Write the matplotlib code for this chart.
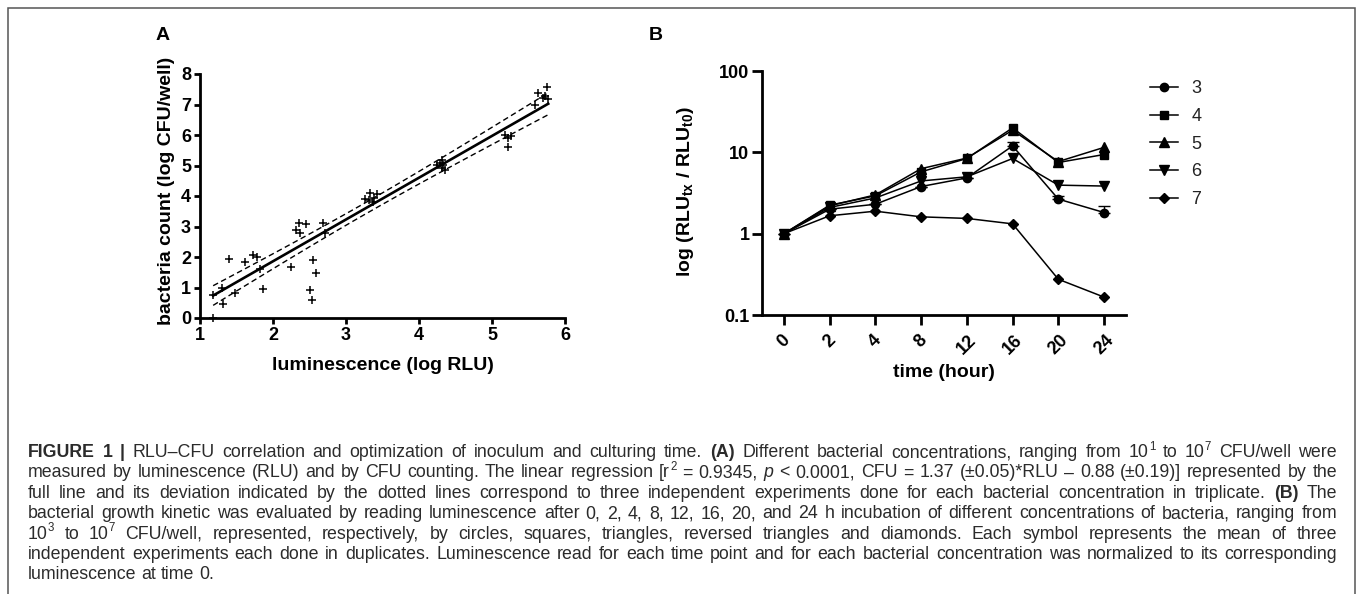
import numpy as np
import matplotlib.pyplot as plt
from matplotlib.patches import Rectangle
from matplotlib.ticker import NullLocator

W, H = 1358, 594

# Panel A: luminescence (log RLU) vs bacteria count (log CFU/well)
lum_log = [1.18, 1.18, 1.30, 1.31, 1.48, 1.40, 1.62, 1.73, 1.78, 1.82, 1.86,
           2.25, 2.50, 2.54, 2.55, 2.59, 2.32, 2.35, 2.37, 2.45, 2.68, 2.71,
           3.26, 3.31, 3.33, 3.38, 3.42, 3.37, 4.24, 4.29, 4.32, 4.36, 4.31,
           4.33, 5.18, 5.22, 5.22, 5.26, 5.59, 5.63, 5.73, 5.75, 5.77, 5.70]
cfu_log = [0.00, 0.75, 0.97, 0.45, 0.82, 1.95, 1.84, 2.08, 2.00, 1.60, 0.94,
           1.68, 0.91, 0.58, 1.90, 1.48, 2.88, 3.10, 2.80, 3.08, 3.10, 2.80,
           3.89, 3.87, 4.11, 3.92, 4.07, 3.81, 5.02, 5.07, 4.91, 4.85, 5.18,
           5.02, 6.00, 5.90, 5.60, 5.97, 6.99, 7.38, 7.27, 7.57, 7.18, 7.20]
fit_slope = 1.37
fit_icpt = -0.88

# Panel B: RLU(tx)/RLU(t0) per inoculum (log CFU/well)
times = ['0', '2', '4', '8', '12', '16', '20', '24']
inoculum = ['3', '4', '5', '6', '7']
ratio_3 = [1.0, 2.00, 2.30, 3.80, 4.85, 12.0, 2.66, 1.82]
ratio_3_sd = [0, 0, 0, 0, 0, 1.4, 0.25, 0.38]
ratio_4 = [1.0, 2.24, 2.92, 5.76, 8.40, 20.0, 7.50, 9.40]
ratio_5 = [1.0, 2.20, 3.00, 6.30, 8.50, 18.7, 7.70, 11.5]
ratio_6 = [1.0, 2.10, 2.75, 4.45, 5.00, 8.40, 3.95, 3.85]
ratio_7 = [1.0, 1.66, 1.89, 1.61, 1.54, 1.32, 0.275, 0.166]

plt.rcParams['font.family'] = ['Liberation Sans', 'DejaVu Sans']
plt.rcParams['mathtext.fontset'] = 'custom'
plt.rcParams['mathtext.rm'] = 'Liberation Sans'
plt.rcParams['mathtext.bf'] = 'Liberation Sans:bold'
plt.rcParams['mathtext.it'] = 'Liberation Sans:italic'

fig = plt.figure(figsize=(W / 100, H / 100), dpi=100)


def fx(px):
    return px / W


def fy(py):
    return 1 - py / H


def gp_axes(ax, tick_len):
    # graphpad look: only left/bottom, thick spines, bold ticks
    for side in ['top', 'right']:
        ax.spines[side].set_visible(False)
    for side in ['left', 'bottom']:
        ax.spines[side].set_linewidth(2.0)
    ax.tick_params(direction='out', length=tick_len, width=2.0, labelsize=13, pad=2)


# ---- panel A
axA = fig.add_axes([fx(200), fy(318), fx(565) - fx(200), fy(74) - fy(318)])
x = np.array(lum_log)
y = np.array(cfu_log)
axA.plot(x, y, '+', color='black', ms=6, mew=1.1, clip_on=False, zorder=3)

xs = np.linspace(x.min(), x.max(), 100)
fit = fit_slope * xs + fit_icpt
resid = y - (fit_slope * x + fit_icpt)
s = np.sqrt(np.sum(resid ** 2) / (len(x) - 2))
band = 2.02 * s * np.sqrt(1 / len(x) + (xs - x.mean()) ** 2 / np.sum((x - x.mean()) ** 2))
axA.plot(xs, fit, color='black', lw=1.9)
axA.plot(xs, fit + band, color='black', lw=1.0, dashes=(4, 2.5))
axA.plot(xs, fit - band, color='black', lw=1.0, dashes=(4, 2.5))

axA.set_xlim(1, 6)
axA.set_ylim(0, 8)
gp_axes(axA, 4.5)
axA.set_xticks(range(1, 7))
axA.set_yticks(range(0, 9))
for lab in axA.get_xticklabels() + axA.get_yticklabels():
    lab.set_fontweight('bold')
axA.set_xlabel('luminescence (log RLU)', fontsize=14, fontweight='bold')
axA.set_ylabel('bacteria count (log CFU/well)', fontsize=14, fontweight='bold')
axA.xaxis.set_label_coords(0.5, -0.16)
axA.yaxis.set_label_coords(-0.068, 0.52)
fig.text(fx(163), fy(36), 'A', fontsize=14, fontweight='bold', ha='center', va='center')

# ---- panel B
axB = fig.add_axes([fx(762), fy(315), fx(1126) - fx(762), fy(71) - fy(315)])
pos = np.arange(len(times))
series = [ratio_3, ratio_4, ratio_5, ratio_6, ratio_7]
markers = ['o', 's', '^', 'v', 'D']
msizes = [6, 6, 6.5, 6.5, 5]
for vals, mk, ms, lab in zip(series, markers, msizes, inoculum):
    axB.plot(pos, vals, marker=mk, ms=ms, color='black', lw=1.1, label=lab, clip_on=False)
axB.errorbar(pos, ratio_3, yerr=[np.zeros(len(times)), ratio_3_sd], fmt='none',
             ecolor='black', elinewidth=1.0, capsize=4, capthick=1.0)

axB.set_yscale('log')
axB.set_ylim(0.1, 100)
axB.set_xlim(-0.48, len(times) - 0.52)
gp_axes(axB, 7)
axB.set_yticks([0.1, 1, 10, 100])
axB.set_yticklabels(['0.1', '1', '10', '100'], fontweight='bold')
axB.yaxis.set_minor_locator(NullLocator())
axB.set_xticks(pos)
axB.set_xticklabels(times, fontweight='bold', rotation=45, ha='center')
axB.tick_params(axis='x', pad=5)
axB.set_xlabel('time (hour)', fontsize=14, fontweight='bold')
axB.set_ylabel(r'log (RLU$_{\mathbf{tx}}$ / RLU$_{\mathbf{t0}}$)', fontsize=14, fontweight='bold')
axB.xaxis.set_label_coords(0.5, -0.2)
axB.yaxis.set_label_coords(-0.18, 0.506)
fig.text(fx(656), fy(36), 'B', fontsize=14, fontweight='bold', ha='center', va='center')

axB.legend(loc='upper left', bbox_to_anchor=(fx(1150), fy(80)), bbox_transform=fig.transFigure,
           frameon=False, fontsize=13, handlelength=1.55, handletextpad=0.75,
           labelspacing=0.6, borderpad=0, borderaxespad=0, labelcolor='#222222')

# ---- caption
cap_lines = [
    [('FIGURE 1 | ', 'b'), ('RLU\u2013CFU correlation and optimization of inoculum and culturing time. ', 'n'),
     ('(A)', 'b'), (' Different bacterial concentrations, ranging from 10', 'n'), ('1', 's'),
     (' to 10', 'n'), ('7', 's'), (' CFU/well were', 'n')],
    [('measured by luminescence (RLU) and by CFU counting. The linear regression [r', 'n'), ('2', 's'),
     (' = 0.9345, ', 'n'), ('p', 'i'),
     (' < 0.0001, CFU = 1.37 (\u00b10.05)*RLU \u2013 0.88 (\u00b10.19)] represented by the', 'n')],
    [('full line and its deviation indicated by the dotted lines correspond to three independent experiments '
      'done for each bacterial concentration in triplicate. ', 'n'), ('(B)', 'b'), (' The', 'n')],
    [('bacterial growth kinetic was evaluated by reading luminescence after 0, 2, 4, 8, 12, 16, 20, and 24 h '
      'incubation of different concentrations of bacteria, ranging from', 'n')],
    [('10', 'n'), ('3', 's'), (' to 10', 'n'), ('7', 's'),
     (' CFU/well, represented, respectively, by circles, squares, triangles, reversed triangles and diamonds. '
      'Each symbol represents the mean of three', 'n')],
    [('independent experiments each done in duplicates. Luminescence read for each time point and for each '
      'bacterial concentration was normalized to its corresponding', 'n')],
    [('luminescence at time 0.', 'n')],
]

rend = fig.canvas.get_renderer()
cap_size = 12.8
cap_color = '#2b2b2b'


def caption_line(segs, y_px, justify, x_left=28, x_right=1337):
    words = [[]]
    for text, st in segs:
        parts = text.split(' ')
        for k, p in enumerate(parts):
            if k > 0:
                words.append([])
            if p:
                words[-1].append((p, st))
    words = [w for w in words if w]
    arts = []
    for w in words:
        wa = []
        for p, st in w:
            fs = cap_size * 0.65 if st == 's' else cap_size
            t = fig.text(0, 0, p, fontsize=fs, color=cap_color, va='baseline', ha='left',
                         fontweight='bold' if st == 'b' else 'normal',
                         fontstyle='italic' if st == 'i' else 'normal')
            wa.append((t, st))
        arts.append(wa)
    widths = [[t.get_window_extent(rend).width for t, st in wa] for wa in arts]
    word_w = [sum(ws) for ws in widths]
    min_gap = cap_size * 100 / 72 * 0.22
    if justify:
        gap = max(min_gap, (x_right - x_left - sum(word_w)) / (len(words) - 1))
    else:
        gap = cap_size * 100 / 72 * 0.28
    xpos = x_left
    for wa, ws, ww in zip(arts, widths, word_w):
        xx = xpos
        for (t, st), w in zip(wa, ws):
            dy = cap_size * 100 / 72 * 0.4 if st == 's' else 0
            t.set_position((fx(xx), fy(y_px - dy)))
            xx += w
        xpos += ww + gap


for i, segs in enumerate(cap_lines):
    caption_line(segs, 457 + i * 20.4, justify=(i < len(cap_lines) - 1))

# frame around the whole figure
fig.add_artist(Rectangle((fx(8), -0.02), fx(1355) - fx(8), fy(8) + 0.02, transform=fig.transFigure,
                         fill=False, edgecolor='#555555', lw=1.1))

fig.savefig('out.png', dpi=100)
